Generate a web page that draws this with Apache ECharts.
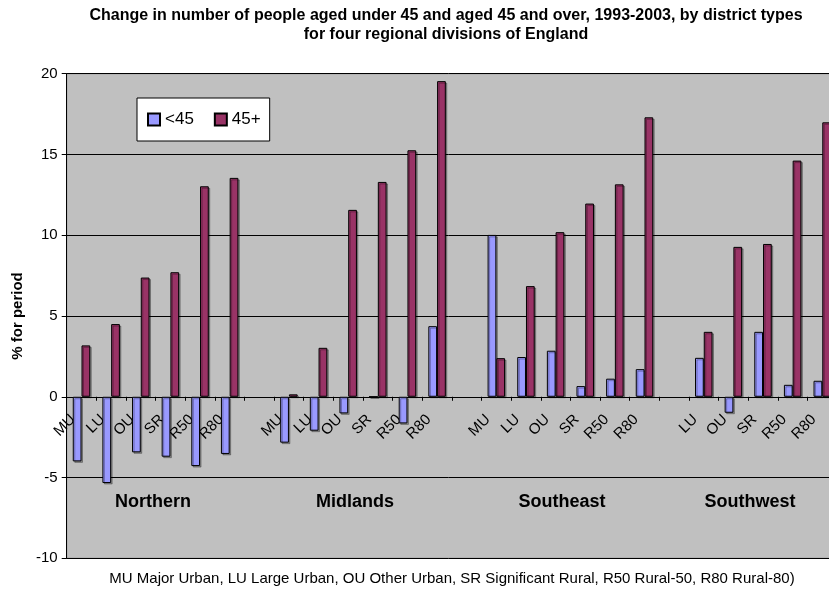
<!DOCTYPE html>
<html>
<head>
<meta charset="utf-8">
<script src="https://cdn.jsdelivr.net/npm/echarts@6/dist/echarts.min.js"></script>
<style>
html,body{margin:0;padding:0;background:#fff;}
#chart{width:829px;height:594px;}
</style>
</head>
<body>
<div id="chart"></div>
<script>
// Category keys (unique) and the district labels shown on the axis
const categories = [
  'N-MU','N-LU','N-OU','N-SR','N-R50','N-R80','gap1',
  'M-MU','M-LU','M-OU','M-SR','M-R50','M-R80','gap2',
  'SE-MU','SE-LU','SE-OU','SE-SR','SE-R50','SE-R80','gap3',
  'SW-LU','SW-OU','SW-SR','SW-R50','SW-R80'
];
const districtLabels = [
  'MU','LU','OU','SR','R50','R80','',
  'MU','LU','OU','SR','R50','R80','',
  'MU','LU','OU','SR','R50','R80','',
  'LU','OU','SR','R50','R80'
];
const under45 = [
  -4.0, -5.34, -3.44, -3.71, -4.29, -3.54, null,
  -2.84, -2.1, -1.03, 0, -1.65, 4.37, null,
  10.02, 2.46, 2.85, 0.66, 1.12, 1.71, null,
  2.41, -0.99, 4.02, 0.74, 0.99
];
const over45 = [
  3.18, 4.5, 7.38, 7.71, 13.03, 13.55, null,
  0.15, 3.03, 11.57, 13.3, 15.26, 19.54, null,
  2.39, 6.85, 10.19, 11.96, 13.15, 17.3, null,
  4.02, 9.28, 9.46, 14.62, 16.99
];
const regionNames = ['Northern', 'Midlands', 'Southeast', 'Southwest'];
const yTicks = [-10, -5, 0, 5, 10, 15, 20];
const seriesNames = ['<45', '45+'];
const titleLines = [
  'Change in number of people aged under 45 and aged 45 and over, 1993-2003, by district types',
  'for four regional divisions of England'
];
const noteText = 'MU Major Urban, LU Large Urban, OU Other Urban, SR Significant Rural, R50 Rural-50, R80 Rural-80)';
const yAxisName = '% for period';

const FONT = '"Liberation Sans", Arial, sans-serif';
const regionLabelPos = [[153, 502], [355, 502], [562, 502], [750, 502]];

const GRID_TOP = 73.7, GRID_BOTTOM = 35.7, H = 594;
const plotH = H - GRID_TOP - GRID_BOTTOM;
const yMin = yTicks[0], yMax = yTicks[yTicks.length - 1];
// shift the category axis up so it sits on the zero line
const zeroOffset = -plotH * (0 - yMin) / (yMax - yMin);

const chart = echarts.init(document.getElementById('chart'), null, {renderer: 'canvas'});
const option = {
  animation: false,
  backgroundColor: '#ffffff',
  textStyle: {fontFamily: FONT},
  grid: {
    left: 66.7, right: -8.1, top: GRID_TOP, bottom: GRID_BOTTOM,
    show: true, backgroundColor: '#C0C0C0', borderColor: '#808080', borderWidth: 1,
    containLabel: false, outerBoundsMode: 'none'
  },
  legend: {
    left: 137, top: 98,
    orient: 'horizontal',
    backgroundColor: '#ffffff', borderColor: '#000000', borderWidth: 1,
    padding: [13, 9, 13, 10],
    itemWidth: 12, itemHeight: 12, itemGap: 20,
    icon: 'rect',
    textStyle: {fontFamily: FONT, fontSize: 17, color: '#000'},
    data: seriesNames
  },
  xAxis: {
    type: 'category',
    data: categories,
    boundaryGap: true,
    position: 'bottom',
    offset: zeroOffset,
    axisLine: {onZero: false, lineStyle: {color: '#000', width: 1}},
    axisTick: {show: true, length: 4, interval: 0, lineStyle: {color: '#000'}},
    axisLabel: {
      interval: 0, rotate: 45, margin: 12, padding: [0, 12, 0, 0],
      fontFamily: FONT, fontSize: 15, color: '#000',
      formatter: function (v, i) { return districtLabels[i]; }
    },
    splitLine: {show: false}
  },
  yAxis: {
    type: 'value',
    min: yMin, max: yMax, interval: 5,
    name: yAxisName, nameLocation: 'middle', nameGap: 40, nameRotate: 90,
    nameTextStyle: {fontFamily: FONT, fontSize: 15, fontWeight: 'bold', color: '#000'},
    axisLine: {show: true, onZero: false, lineStyle: {color: '#000', width: 1}},
    axisTick: {show: true, length: 5, lineStyle: {color: '#000'}},
    axisLabel: {fontFamily: FONT, fontSize: 15, color: '#000', margin: 9},
    splitLine: {show: true, lineStyle: {color: '#000', width: 1}}
  },
  series: [
    {
      name: seriesNames[0], type: 'bar', data: under45,
      barGap: '0%', barCategoryGap: '41%',
      itemStyle: {color: '#9999FF', borderColor: '#000', borderWidth: 1,
        shadowColor: 'rgba(0,0,0,0.3)', shadowOffsetX: 1.5, shadowOffsetY: 1.5}
    },
    {
      name: seriesNames[1], type: 'bar', data: over45,
      barGap: '0%', barCategoryGap: '41%',
      itemStyle: {color: '#993366', borderColor: '#000', borderWidth: 1,
        shadowColor: 'rgba(0,0,0,0.3)', shadowOffsetX: 1.5, shadowOffsetY: 1.5}
    }
  ],
  graphic: [
    {type: 'text', x: 446, y: 16, style: {text: titleLines[0], fill: '#000', font: 'bold 16px ' + FONT, textAlign: 'center', textVerticalAlign: 'middle'}},
    {type: 'text', x: 446, y: 35, style: {text: titleLines[1], fill: '#000', font: 'bold 16px ' + FONT, textAlign: 'center', textVerticalAlign: 'middle'}},
    {type: 'text', x: 452, y: 579, style: {text: noteText, fill: '#000', font: '15px ' + FONT, textAlign: 'center', textVerticalAlign: 'middle'}}
  ].concat(regionNames.map(function (n, i) {
    return {type: 'text', x: regionLabelPos[i][0], y: regionLabelPos[i][1], z: 10,
      style: {text: n, fill: '#000', font: 'bold 18px ' + FONT, textAlign: 'center', textVerticalAlign: 'middle'}};
  }))
};
chart.setOption(option);
</script>
</body>
</html>
